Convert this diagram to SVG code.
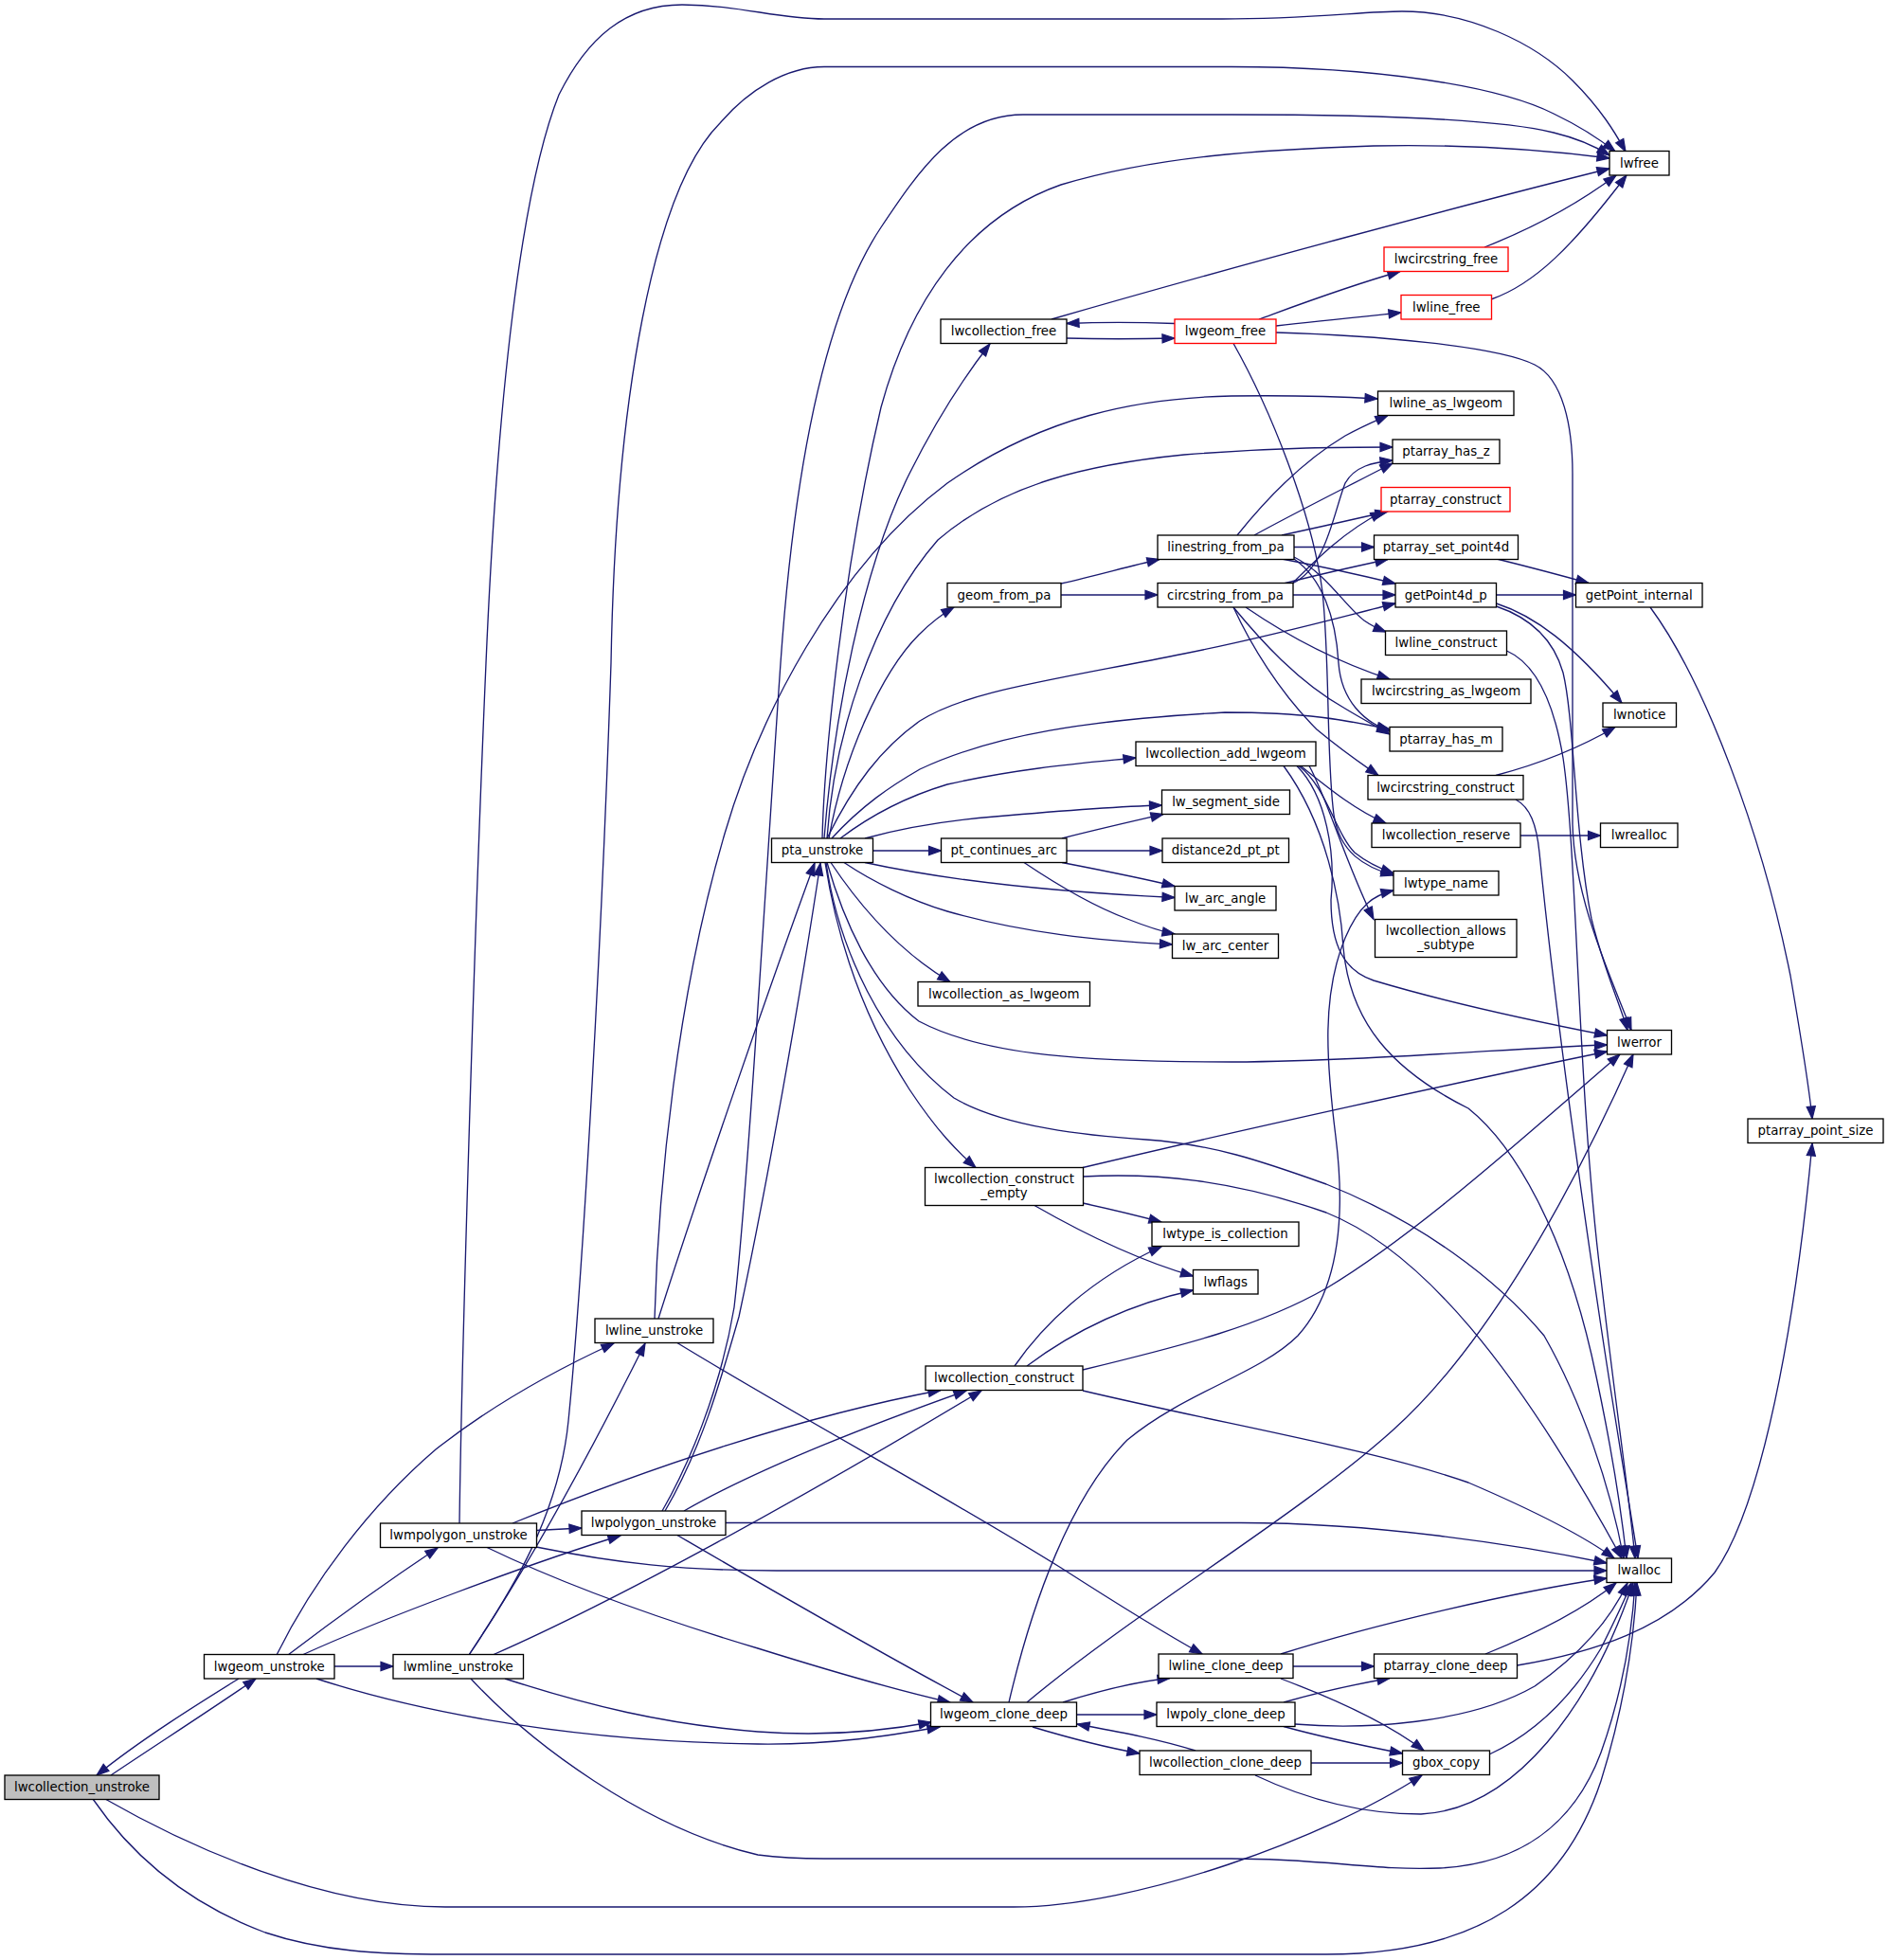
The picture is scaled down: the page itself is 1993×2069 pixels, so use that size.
<svg xmlns="http://www.w3.org/2000/svg" width="1993" height="2069" viewBox="0 0 1993 2069">
<defs>
<style>
.n rect{fill:#fff;stroke:#000;stroke-width:1.33}
.n.red rect{stroke:#ff0000}
.n.root rect{fill:#bfbfbf}
.n text{font-family:"DejaVu Sans","Noto Sans",sans-serif;font-size:13.33px;text-anchor:middle;fill:#000}
.e path{fill:none;stroke:#191970;stroke-width:1.33;marker-end:url(#ah)}
</style>
<marker id="ah" markerUnits="userSpaceOnUse" markerWidth="16" markerHeight="12" refX="13" refY="5" orient="auto" overflow="visible">
<path d="M0,0.4 L13,5 L0,9.6 z" fill="#191970" stroke="#191970" stroke-width="1.2"/>
</marker>
</defs>
<rect x="0" y="0" width="1993" height="2069" fill="#fff"/>
<g id="edges" class="e">
<path d="M117,1874 C160,1845 230,1800 270,1772"/>
<path d="M252,1772 C215,1795 150,1835 102,1874"/>
<path d="M353,1759 L415,1759"/>
<path d="M304,1747 C350,1712 420,1662 462,1634"/>
<path d="M319,1747 C400,1710 560,1650 655,1621"/>
<path d="M292,1747 C330,1670 390,1590 460,1530 C530,1475 600,1440 648,1418"/>
<path d="M334,1772 C420,1800 580,1838 800,1841 C880,1842 940,1832 992,1823"/>
<path d="M111,1899 C200,1950 340,2013 470,2013 L1070,2013 C1200,2013 1400,1940 1501,1874"/>
<path d="M98,1899 C140,1960 200,2010 280,2040 C340,2060 400,2063 470,2063 L1400,2063 C1560,2063 1650,2000 1690,1880 C1715,1800 1725,1730 1728,1671"/>
<path d="M566,1633 C650,1650 720,1658 820,1658 L1696,1658"/>
<path d="M766,1607.5 L1310,1607.5 C1450,1607.5 1600,1630 1696,1650"/>
<path d="M566,1615.5 L614,1613"/>
<path d="M541,1608 C640,1568 820,1500 993,1467.5"/>
<path d="M513,1633 C600,1675 700,1710 800,1740 C880,1765 950,1785 1003,1797"/>
<path d="M495,1747 C540,1680 590,1600 600,1500 C615,1350 635,1000 645,700 C650,420 690,200 760,130 C790,95 830,70.5 870,70.5 L1300,70.5 C1450,70.5 1580,90 1640,120 C1665,132 1690,148 1705,160"/>
<path d="M485,1608 C487,1450 500,1000 513,700 C525,420 550,200 590,100 C620,40 660,5 720,5 C780,5 820,20 870,20 L1290,20 C1380,20 1440,12 1480,12 C1550,12 1620,45 1660,85 C1690,115 1705,140 1716,160"/>
<path d="M699,1595 C725,1550 760,1470 775,1380 C790,1250 810,900 824,700 C838,500 870,330 930,240 C970,180 1010,121 1080,121 L1300,121 C1450,121 1580,125 1640,140 C1665,146 1685,155 1699,164"/>
<path d="M702,1595 C740,1530 760,1460 780,1390 C810,1250 845,1050 866,911"/>
<path d="M868,885 C870,800 890,600 930,430 C960,320 1020,230 1120,195 C1220,165 1330,158 1450,154 C1550,152 1630,158 1699,167"/>
<path d="M870,885 C880,760 910,600 960,500 C990,440 1020,395 1045,363"/>
<path d="M691,1392 C695,1250 715,1050 765,880 C800,760 880,600 1000,510 C1100,440 1200,420 1300,418 C1370,417 1420,419 1454,421"/>
<path d="M695,1392 C740,1250 820,1020 860,911"/>
<path d="M714,1417 C850,1500 1000,1580 1120,1655 C1190,1700 1240,1730 1269,1746"/>
<path d="M495,1747 C540,1680 600,1580 681,1418"/>
<path d="M520,1747 C650,1690 850,1580 1036,1468"/>
<path d="M497,1772 C560,1840 680,1930 800,1958 C830,1962 850,1962 870,1962 L1300,1962 C1400,1962 1450,1975 1520,1972 C1600,1968 1660,1930 1690,1850 C1715,1780 1723,1720 1726,1671"/>
<path d="M533,1772 C620,1800 700,1820 800,1828 C880,1834 940,1826 983,1818"/>
<path d="M722,1595 C800,1550 930,1500 1020,1468"/>
<path d="M714,1620 C800,1670 920,1740 1027,1797"/>
<path d="M875,885 C890,800 930,710 970,670 C985,655 995,648 1007,641"/>
<path d="M873,885 C880,780 920,650 990,570 C1060,510 1150,490 1250,480 C1350,472 1420,472 1470,472"/>
<path d="M873,885 C900,830 930,790 971,761 C1020,730 1100,720 1250,690 C1350,670 1420,650 1473,637"/>
<path d="M878,885 C910,850 940,830 971,812 C1050,775 1150,760 1293,752 C1380,752 1420,760 1467,770"/>
<path d="M887,885 C920,860 960,840 1000,828 C1080,810 1150,805 1199,800"/>
<path d="M913,885 C960,872 1000,866 1050,862 C1130,855 1190,851 1226.5,850"/>
<path d="M921.5,898 L993.5,898"/>
<path d="M913,910.5 C980,925 1080,940 1240,947.5"/>
<path d="M891,910.5 C920,930 960,950 1000,962 C1080,985 1160,993 1237.5,997"/>
<path d="M877,910.5 C910,960 950,1005 1003,1036.5"/>
<path d="M873,910.5 C890,970 920,1040 970,1078 C1040,1115 1150,1121 1300,1121 C1450,1120 1600,1106 1696.5,1103"/>
<path d="M872,910.5 C885,1000 930,1100 1007,1159 C1060,1190 1150,1199 1210,1203 C1280,1208 1330,1225 1400,1250 C1500,1290 1580,1350 1630,1410 C1670,1480 1700,1570 1714,1645"/>
<path d="M871,910.5 C885,1000 915,1080 960,1150 C990,1195 1010,1215 1030,1232.5"/>
<path d="M1121,885 C1160,875 1200,866 1228,859.5"/>
<path d="M1126,898 L1227,898"/>
<path d="M1121,910.5 C1170,920 1210,928 1240,935.5"/>
<path d="M1081,910.5 C1110,930 1150,955 1190,970 C1210,978 1225,983 1240,986"/>
<path d="M1120,616 C1160,607 1190,598 1224,590.5"/>
<path d="M1120,628 L1222,628"/>
<path d="M1306,565 C1330,535 1370,490 1420,460 C1440,449 1455,443 1465,438.5"/>
<path d="M1324,565 C1360,545 1410,520 1470,489"/>
<path d="M1353,565 C1390,557 1430,548 1465,540"/>
<path d="M1366,577.5 L1450.5,577.5"/>
<path d="M1353,590 C1395,598 1440,608 1473,616"/>
<path d="M1366,588 C1400,605 1420,640 1440,655 C1450,662 1458,665 1463,667"/>
<path d="M1366,590 C1395,610 1410,650 1413,700 C1416,740 1440,762 1467,772"/>
<path d="M1364,616 C1400,600 1408,540 1420,510 C1430,492 1450,488 1470,486"/>
<path d="M1364,616 C1390,590 1420,560 1460,540"/>
<path d="M1355,616 C1390,607 1430,598 1465,590.5"/>
<path d="M1365,628 L1473,628"/>
<path d="M1315,641 C1350,665 1400,695 1467,717"/>
<path d="M1302,641 C1330,675 1370,720 1420,748 C1440,760 1455,768 1467,775"/>
<path d="M1302,641 C1320,680 1350,730 1390,770 C1420,795 1440,808 1455,818.5"/>
<path d="M1110,337 C1300,282 1550,215 1699,178"/>
<path d="M1126,357 C1160,358 1200,358 1240,357"/>
<path d="M1240,341.5 C1200,340 1160,340 1126,341.5"/>
<path d="M1329,337 C1370,322 1420,303 1478,286.5"/>
<path d="M1347,344 C1390,339 1440,334 1479,330"/>
<path d="M1302,362.5 C1340,430 1385,540 1396,625 C1404,700 1400,800 1408,860 C1414,900 1440,915 1471,924"/>
<path d="M1347,351 C1450,354 1580,365 1620,385 C1650,400 1660,450 1660,500 L1660,870 C1662,950 1700,1030 1722,1087.5"/>
<path d="M1579.5,628 L1663.5,628"/>
<path d="M1579.5,637 C1620,650 1660,680 1712,742"/>
<path d="M1579.5,640 C1615,652 1640,675 1650,710 C1662,760 1662,880 1680,970 C1692,1020 1710,1060 1718,1087.5"/>
<path d="M1580,590 C1620,600 1650,608 1677,615.5"/>
<path d="M1742,641 C1800,720 1860,880 1890,1030 C1902,1100 1910,1150 1913,1181"/>
<path d="M1590.5,687 C1620,700 1640,740 1650,800 C1665,900 1665,1150 1690,1350 C1705,1480 1720,1580 1726,1645"/>
<path d="M1579,818.5 C1630,805 1670,788 1705,767.5"/>
<path d="M1600,844 C1615,852 1622,870 1625,900 C1640,1050 1660,1200 1690,1400 C1705,1500 1722,1600 1729,1645"/>
<path d="M1373,808.5 C1400,830 1430,855 1463,869"/>
<path d="M1371,808.5 C1400,830 1410,880 1430,900 C1445,912 1460,918 1471,922"/>
<path d="M1382,808.5 C1400,840 1420,910 1450,970.5"/>
<path d="M1369,808.5 C1400,840 1410,900 1405,950 C1405,1000 1420,1025 1450,1035 C1540,1062 1640,1082 1696.5,1093"/>
<path d="M1355,808.5 C1400,870 1415,950 1418,1000 C1425,1080 1470,1130 1550,1170 C1600,1210 1650,1300 1680,1430 C1700,1520 1712,1600 1717,1645"/>
<path d="M1605,882 L1689.5,882"/>
<path d="M1567,261 C1620,240 1670,212 1706,185"/>
<path d="M1574,316 C1620,300 1660,260 1717,185"/>
<path d="M1065,1797 C1090,1690 1130,1580 1190,1520 C1250,1470 1330,1450 1370,1410 C1415,1360 1420,1280 1410,1200 C1400,1120 1395,1050 1420,990 C1435,955 1450,945 1471,940"/>
<path d="M1084,1797 C1200,1700 1370,1600 1470,1510 C1560,1430 1650,1280 1724,1113"/>
<path d="M1122,1797 C1160,1785 1200,1775 1235,1771.5"/>
<path d="M1137,1810 L1221,1810"/>
<path d="M1090,1823 C1130,1835 1170,1845 1203,1851"/>
<path d="M1262,1848 C1220,1835 1180,1828 1137,1820"/>
<path d="M1384,1861 L1480.5,1861"/>
<path d="M1325,1874 C1380,1900 1440,1915 1500,1915 C1600,1910 1680,1800 1724,1671"/>
<path d="M1365,1759 L1450.5,1759"/>
<path d="M1352,1772 C1400,1790 1460,1815 1503,1848"/>
<path d="M1352,1746 C1450,1715 1600,1680 1696,1666"/>
<path d="M1355,1797 C1390,1787 1430,1778 1467,1771.5"/>
<path d="M1355,1822.5 C1400,1835 1440,1843 1480.5,1851"/>
<path d="M1367,1820 C1440,1826 1550,1820 1620,1780 C1670,1745 1700,1710 1718,1671"/>
<path d="M1568,1746 C1620,1725 1670,1700 1706,1671"/>
<path d="M1601.5,1758 C1680,1745 1760,1720 1810,1660 C1860,1590 1895,1400 1913,1207"/>
<path d="M1572,1852 C1620,1830 1660,1790 1690,1740 C1705,1710 1715,1690 1722,1671"/>
<path d="M1071,1442 C1100,1400 1150,1350 1226,1316"/>
<path d="M1084,1442 C1140,1400 1200,1375 1259.5,1362"/>
<path d="M1143,1446 C1250,1420 1330,1400 1400,1360 C1500,1300 1620,1190 1710,1113"/>
<path d="M1143,1468 C1300,1505 1450,1530 1550,1565 C1620,1595 1670,1620 1704,1645"/>
<path d="M1143,1232.5 C1300,1195 1550,1140 1696.5,1110"/>
<path d="M1143,1242 C1220,1238 1300,1245 1400,1280 C1500,1320 1600,1440 1712,1645"/>
<path d="M1143,1270 C1175,1277 1200,1283 1226,1290"/>
<path d="M1092,1272.5 C1140,1300 1200,1330 1259.5,1347"/>
</g>
<g id="node-lwcollection_unstroke" class="n root"><rect x="5" y="1874" width="163" height="25.5"/><text x="86.5" y="1891">lwcollection_unstroke</text></g>
<g id="node-lwgeom_unstroke" class="n"><rect x="215.5" y="1746.5" width="137.5" height="25.5"/><text x="284.25" y="1763.5">lwgeom_unstroke</text></g>
<g id="node-lwmpolygon_unstroke" class="n"><rect x="401.5" y="1608" width="165" height="25.5"/><text x="484" y="1625">lwmpolygon_unstroke</text></g>
<g id="node-lwmline_unstroke" class="n"><rect x="415" y="1746.5" width="137.5" height="25.5"/><text x="483.75" y="1763.5">lwmline_unstroke</text></g>
<g id="node-lwline_unstroke" class="n"><rect x="628" y="1392" width="125" height="25.5"/><text x="690.5" y="1409">lwline_unstroke</text></g>
<g id="node-lwpolygon_unstroke" class="n"><rect x="614" y="1595" width="152" height="25.5"/><text x="690" y="1612">lwpolygon_unstroke</text></g>
<g id="node-pta_unstroke" class="n"><rect x="814.5" y="885" width="107" height="25.5"/><text x="868" y="902">pta_unstroke</text></g>
<g id="node-lwcollection_free" class="n"><rect x="993" y="337" width="133" height="25.5"/><text x="1059.5" y="354">lwcollection_free</text></g>
<g id="node-geom_from_pa" class="n"><rect x="1000" y="615.5" width="120" height="25.5"/><text x="1060" y="632.5">geom_from_pa</text></g>
<g id="node-pt_continues_arc" class="n"><rect x="993.5" y="885" width="132.5" height="25.5"/><text x="1059.75" y="902">pt_continues_arc</text></g>
<g id="node-lwcollection_as_lwgeom" class="n"><rect x="969" y="1036.5" width="181.5" height="25.5"/><text x="1059.75" y="1053.5">lwcollection_as_lwgeom</text></g>
<g id="node-lwcollection_construct_empty" class="n"><rect x="976.5" y="1232.5" width="167" height="40"/><text x="1060" y="1249.2">lwcollection_construct</text><text x="1060" y="1263.9">_empty</text></g>
<g id="node-lwcollection_construct" class="n"><rect x="977" y="1442" width="166" height="25.5"/><text x="1060" y="1459">lwcollection_construct</text></g>
<g id="node-lwgeom_clone_deep" class="n"><rect x="982.5" y="1797" width="154" height="25.5"/><text x="1059.5" y="1814">lwgeom_clone_deep</text></g>
<g id="node-lwgeom_free" class="n red"><rect x="1240" y="337" width="107" height="25.5"/><text x="1293.5" y="354">lwgeom_free</text></g>
<g id="node-linestring_from_pa" class="n"><rect x="1222" y="565" width="144" height="25.5"/><text x="1294" y="582">linestring_from_pa</text></g>
<g id="node-circstring_from_pa" class="n"><rect x="1222" y="615.5" width="143" height="25.5"/><text x="1293.5" y="632.5">circstring_from_pa</text></g>
<g id="node-lwcollection_add_lwgeom" class="n"><rect x="1199" y="783" width="190" height="25.5"/><text x="1294" y="800">lwcollection_add_lwgeom</text></g>
<g id="node-lw_segment_side" class="n"><rect x="1226.5" y="834" width="135" height="25.5"/><text x="1294" y="851">lw_segment_side</text></g>
<g id="node-distance2d_pt_pt" class="n"><rect x="1227" y="885" width="133.5" height="25.5"/><text x="1293.75" y="902">distance2d_pt_pt</text></g>
<g id="node-lw_arc_angle" class="n"><rect x="1240" y="935.5" width="107" height="25.5"/><text x="1293.5" y="952.5">lw_arc_angle</text></g>
<g id="node-lw_arc_center" class="n"><rect x="1237.5" y="986" width="112" height="25.5"/><text x="1293.5" y="1003">lw_arc_center</text></g>
<g id="node-lwtype_is_collection" class="n"><rect x="1216" y="1290" width="155" height="25.5"/><text x="1293.5" y="1307">lwtype_is_collection</text></g>
<g id="node-lwflags" class="n"><rect x="1259.5" y="1340.5" width="68.5" height="25.5"/><text x="1293.75" y="1357.5">lwflags</text></g>
<g id="node-lwline_clone_deep" class="n"><rect x="1223" y="1746" width="142" height="25.5"/><text x="1294" y="1763">lwline_clone_deep</text></g>
<g id="node-lwpoly_clone_deep" class="n"><rect x="1221" y="1797" width="146" height="25.5"/><text x="1294" y="1814">lwpoly_clone_deep</text></g>
<g id="node-lwcollection_clone_deep" class="n"><rect x="1203" y="1848" width="181" height="25.5"/><text x="1293.5" y="1865">lwcollection_clone_deep</text></g>
<g id="node-lwcircstring_free" class="n red"><rect x="1461" y="261" width="131" height="25.5"/><text x="1526.5" y="278">lwcircstring_free</text></g>
<g id="node-lwline_free" class="n red"><rect x="1479" y="311.5" width="95.5" height="25.5"/><text x="1526.75" y="328.5">lwline_free</text></g>
<g id="node-lwline_as_lwgeom" class="n"><rect x="1454.5" y="413" width="143.5" height="25.5"/><text x="1526.25" y="430">lwline_as_lwgeom</text></g>
<g id="node-ptarray_has_z" class="n"><rect x="1470" y="464" width="113" height="25.5"/><text x="1526.5" y="481">ptarray_has_z</text></g>
<g id="node-ptarray_construct" class="n red"><rect x="1458" y="514.5" width="136" height="25.5"/><text x="1526" y="531.5">ptarray_construct</text></g>
<g id="node-ptarray_set_point4d" class="n"><rect x="1450.5" y="565" width="152" height="25.5"/><text x="1526.5" y="582">ptarray_set_point4d</text></g>
<g id="node-getPoint4d_p" class="n"><rect x="1473" y="615.5" width="106.5" height="25.5"/><text x="1526.25" y="632.5">getPoint4d_p</text></g>
<g id="node-lwline_construct" class="n"><rect x="1462.5" y="666" width="128" height="25.5"/><text x="1526.5" y="683">lwline_construct</text></g>
<g id="node-lwcircstring_as_lwgeom" class="n"><rect x="1437" y="717" width="179" height="25.5"/><text x="1526.5" y="734">lwcircstring_as_lwgeom</text></g>
<g id="node-ptarray_has_m" class="n"><rect x="1467" y="767.5" width="119" height="25.5"/><text x="1526.5" y="784.5">ptarray_has_m</text></g>
<g id="node-lwcircstring_construct" class="n"><rect x="1444" y="818.5" width="164" height="25.5"/><text x="1526" y="835.5">lwcircstring_construct</text></g>
<g id="node-lwcollection_reserve" class="n"><rect x="1448" y="869" width="157" height="25.5"/><text x="1526.5" y="886">lwcollection_reserve</text></g>
<g id="node-lwtype_name" class="n"><rect x="1471" y="919.5" width="111" height="25.5"/><text x="1526.5" y="936.5">lwtype_name</text></g>
<g id="node-lwcollection_allows_subtype" class="n"><rect x="1451.5" y="970.5" width="149.5" height="40"/><text x="1526.25" y="987.2">lwcollection_allows</text><text x="1526.25" y="1001.9">_subtype</text></g>
<g id="node-ptarray_clone_deep" class="n"><rect x="1450.5" y="1746" width="151" height="25.5"/><text x="1526" y="1763">ptarray_clone_deep</text></g>
<g id="node-gbox_copy" class="n"><rect x="1480.5" y="1848" width="92" height="25.5"/><text x="1526.5" y="1865">gbox_copy</text></g>
<g id="node-lwfree" class="n"><rect x="1699" y="159.5" width="63" height="25.5"/><text x="1730.5" y="176.5">lwfree</text></g>
<g id="node-getPoint_internal" class="n"><rect x="1663.5" y="615.5" width="133.5" height="25.5"/><text x="1730.25" y="632.5">getPoint_internal</text></g>
<g id="node-lwnotice" class="n"><rect x="1692" y="742" width="77.5" height="25.5"/><text x="1730.75" y="759">lwnotice</text></g>
<g id="node-lwrealloc" class="n"><rect x="1689.5" y="869" width="81.5" height="25.5"/><text x="1730.25" y="886">lwrealloc</text></g>
<g id="node-lwerror" class="n"><rect x="1696.5" y="1087.5" width="68" height="25.5"/><text x="1730.5" y="1104.5">lwerror</text></g>
<g id="node-lwalloc" class="n"><rect x="1696" y="1645" width="68.5" height="25.5"/><text x="1730.25" y="1662">lwalloc</text></g>
<g id="node-ptarray_point_size" class="n"><rect x="1845" y="1181" width="143" height="25.5"/><text x="1916.5" y="1198">ptarray_point_size</text></g>
</svg>
